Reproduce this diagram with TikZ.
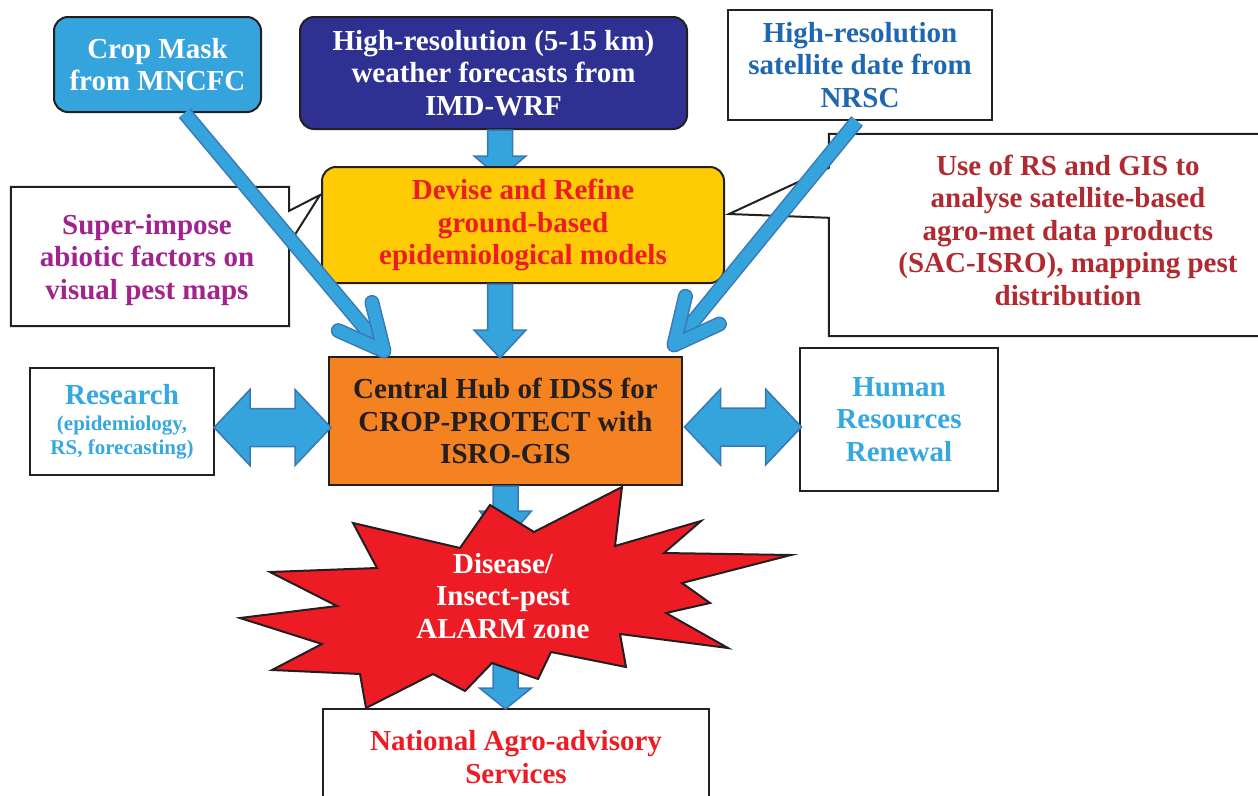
\documentclass[tikz,border=0pt]{standalone}
\usepackage{fontspec}
\setmainfont{Liberation Serif}
\usetikzlibrary{calc}
\definecolor{arrowblue}{HTML}{35A3DC}
\definecolor{arrowedge}{HTML}{3A78B5}
\definecolor{navy}{HTML}{2E3192}
\definecolor{gold}{HTML}{FFCB05}
\definecolor{alarmred}{HTML}{ED1C24}
\definecolor{huborange}{HTML}{F58220}
\definecolor{ink}{HTML}{231F20}
\definecolor{nrscblue}{HTML}{1F68B1}
\definecolor{plum}{HTML}{A3238E}
\definecolor{brick}{HTML}{B12A31}
\definecolor{skyblue}{HTML}{35A8E0}
\tikzset{
  plainbox/.style={draw=ink, fill=white, line width=2pt, inner sep=0pt, align=center},
  roundbox/.style={plainbox, rounded corners=14pt},
  frame/.style={draw=ink, fill=white, line width=2pt, line join=miter},
  blockarrow/.style={fill=arrowblue, draw=arrowedge, line width=1.5pt},
  thinarrow/.style={draw=arrowedge, line width=15pt, line join=round, line cap=round,
    postaction={draw=arrowblue, line width=12pt}},
  burst/.style={fill=alarmred, draw=ink, line width=2pt, line join=miter}
}
\newcommand{\smalltext}{\fontsize{21}{24}\selectfont}
% down block arrow: start, shaft length, head length
\newcommand{\blockdown}[3]{\draw[blockarrow] (#1) ++(-12.5,0) -- ++(0,#2) -- ++(-13.5,0)
  -- ++(26,#3) -- ++(26,-#3) -- ++(-13.5,0) -- ++(0,-#2) -- cycle;}
% two-headed block arrow: left tip, total length
\newcommand{\blockboth}[2]{\draw[blockarrow] (#1) -- ++(36,-38) -- ++(0,19) -- ++(#2-72,0)
  -- ++(0,-19) -- ++(36,38) -- ++(-36,38) -- ++(0,-19) -- ++(-#2+72,0) -- ++(0,19) -- cycle;}
\begin{document}
\begin{tikzpicture}[x=1pt, y=-1pt, font=\bfseries\fontsize{29}{32.5}\selectfont]
  \def\burstpath{(622,487) -- (615,546) -- (701,521) -- (664,553) -- (791,555) -- (682,583)
    -- (710,603) -- (666,613) -- (728,648) -- (620,634) -- (626,667) -- (551,652) -- (538,679)
    -- (492,663) -- (465,691) -- (433,674) -- (366,708) -- (360,674) -- (272,670) -- (322,644)
    -- (240,618) -- (337,606) -- (270,572) -- (377,568) -- (353,523) -- (460,548) -- (490,505)
    -- (534,532) -- cycle}
  \useasboundingbox (0,0) rectangle (1258,795);
  \coordinate (spine) at (500,0);
  \coordinate (burst) at (504,600);

  % sources
  \node[roundbox, fill=arrowblue, text=white, minimum width=207pt, minimum height=95pt]
    (crop) at (157.5,64.5) {Crop Mask\\from MNCFC};
  \node[roundbox, fill=navy, text=white, minimum width=387pt, minimum height=112pt]
    (weather) at (493.5,73) {High-resolution (5-15 km)\\weather forecasts from\\IMD-WRF};
  \node[plainbox, text=nrscblue, minimum width=264pt, minimum height=110pt]
    (nrsc) at (860,65) {High-resolution\\satellite date from\\NRSC};

  \blockdown{weather.south -| spine}{26}{22}
  \node[roundbox, fill=gold, text=alarmred, minimum width=402pt, minimum height=116pt]
    (devise) at (523,225) {Devise and Refine\\ground-based\\epidemiological models};
  \node[plainbox, fill=huborange, text=ink, minimum width=353pt, minimum height=128pt]
    (hub) at (505.5,421) {Central Hub of IDSS for\\CROP-PROTECT with\\ISRO-GIS};
  \blockdown{devise.south -| spine}{46}{28}

  % callouts
  \node[minimum width=278pt, minimum height=139pt, inner sep=0pt] (superbox) at (150,256.5) {};
  \draw[frame] (superbox.north west) -- (superbox.north east) -- ($(superbox.north east)+(0,24)$)
    -- ($(devise.west)+(-1,-30)$) -- ($(superbox.north east)+(0,57)$) -- (superbox.south east)
    -- (superbox.south west) -- cycle;
  \node[text=plum, align=center] (supertext) at (147,260) {Super-impose\\abiotic factors on\\visual pest maps};
  \node[minimum width=471pt, minimum height=202pt, inner sep=0pt] (usebox) at (1064.5,235) {};
  \draw[frame] (usebox.north west) -- (usebox.north east) -- (usebox.south east) -- (usebox.south west)
    -- ($(usebox.north west)+(0,84)$) -- ($(devise.east)+(4,-11)$) -- ($(usebox.north west)+(0,34)$) -- cycle;
  \node[text=brick, align=center] (usetext) at (1068,230)
    {Use of RS and GIS to\\analyse satellite-based\\agro-met data products\\(SAC-ISRO), mapping pest\\distribution};

  % side boxes
  \node[plainbox, text=skyblue, minimum width=184pt, minimum height=107pt] (research) at (122,421.5)
    {Research\\[-6pt]\smalltext(epidemiology,\\[-9pt]\smalltext RS, forecasting)};
  \node[plainbox, text=skyblue, minimum width=198pt, minimum height=143pt] (human) at (899,419.5)
    {Human\\Resources\\Renewal};
  \blockboth{$(research.east)+(-1,6)$}{117}
  \blockboth{$(hub.east)+(1.5,6)$}{117}

  % thin arrows
  \coordinate (cropfoot) at ($(crop.south)+(27,0)$);
  \coordinate (croptip) at ($(hub.north west)+(56,-5)$);
  \draw[thinarrow, line cap=butt] (cropfoot) -- (croptip);
  \draw[thinarrow] ($(croptip)!50pt!26:(cropfoot)$) -- (croptip) -- ($(croptip)!50pt!-26:(cropfoot)$);
  \coordinate (nrscfoot) at ($(nrsc.south)+(-3,0)$);
  \coordinate (nrsctip) at ($(hub.north east)+(-9,-11)$);
  \draw[thinarrow, line cap=butt] (nrscfoot) -- (nrsctip);
  \draw[thinarrow] ($(nrsctip)!50pt!26:(nrscfoot)$) -- (nrsctip) -- ($(nrsctip)!50pt!-26:(nrscfoot)$);

  % alarm
  \node[plainbox, text=alarmred, minimum width=386pt, minimum height=96pt] (national) at (516,757)
    {National Agro-advisory\\Services};
  \blockdown{hub.south}{25}{30}
  \blockdown{hub.south |- burst}{88}{21}
  \draw[burst] \burstpath;
  \node[text=white, align=center] (alarm) at (503,596) {Disease/\\Insect-pest\\ALARM zone};
\end{tikzpicture}
\end{document}
